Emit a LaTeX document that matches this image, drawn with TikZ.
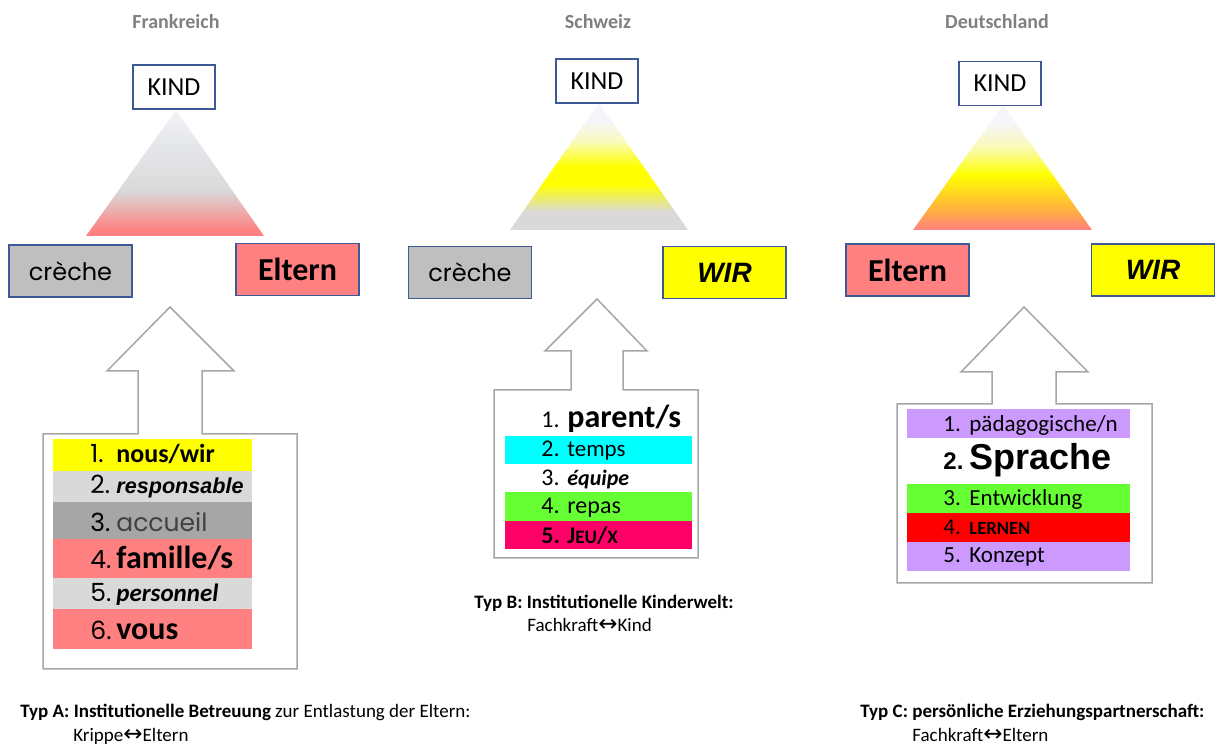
\documentclass[tikz,border=0pt]{standalone}
\usepackage{fontspec}
\setmainfont{Carlito}
\newfontfamily\arialfont{Liberation Sans}
\newfontfamily\thinfont{Poppins}
\newfontfamily\symfont{DejaVu Sans}
\usetikzlibrary{positioning}

\definecolor{boxblue}{RGB}{61,90,150}
\definecolor{titlegray}{RGB}{128,128,128}
\definecolor{arrowgray}{RGB}{166,166,166}
\definecolor{lightred}{RGB}{255,128,128}
\definecolor{creche}{RGB}{191,191,191}
\definecolor{lightgray}{RGB}{217,217,217}
\definecolor{midgray}{RGB}{166,166,166}
\definecolor{hlyellow}{RGB}{255,255,0}
\definecolor{hlcyan}{RGB}{0,255,255}
\definecolor{hlgreen}{RGB}{102,255,51}
\definecolor{hlmagenta}{RGB}{255,0,102}
\definecolor{hlred}{RGB}{255,0,0}
\definecolor{hllilac}{RGB}{204,153,255}
\definecolor{frtop}{RGB}{241,243,248}
\definecolor{frmid}{RGB}{228,229,232}
\definecolor{chpale}{RGB}{250,250,190}
\definecolor{chtop}{RGB}{244,246,251}
\definecolor{deorange}{RGB}{255,176,64}
\definecolor{degold}{RGB}{255,215,32}
\definecolor{depale}{RGB}{250,250,180}

\pgfdeclareverticalshading{frshade}{100bp}{color(0bp)=(lightred); color(27bp)=(lightred);
  color(43bp)=(lightgray); color(59bp)=(frmid); color(75bp)=(frtop); color(100bp)=(frtop)}
\pgfdeclareverticalshading{chshade}{100bp}{color(0bp)=(lightgray); color(32bp)=(lightgray);
  color(43bp)=(hlyellow); color(50bp)=(hlyellow); color(60bp)=(chpale); color(68bp)=(chtop); color(100bp)=(chtop)}
\pgfdeclareverticalshading{deshade}{100bp}{color(0bp)=(lightred); color(25bp)=(lightred);
  color(33bp)=(deorange); color(40bp)=(degold); color(47bp)=(hlyellow); color(58bp)=(depale); color(68bp)=(chtop); color(100bp)=(chtop)}

\tikzset{
  countrytitle/.style={font=\bfseries\fontsize{10}{12}\selectfont, text=titlegray, inner sep=0pt},
  kidbox/.style={draw=boxblue, line width=0.7pt, fill=white, minimum width=41pt, minimum height=22pt,
    inner sep=0pt, font=\fontsize{13}{15}\selectfont},
  partbox/.style={draw=boxblue, line width=0.7pt, minimum width=61.5pt, minimum height=26pt, inner sep=0pt},
  blockarrow/.style={draw=arrowgray, line width=0.75pt, line join=miter},
  itemnum/.style={anchor=base west, inner sep=0pt},
  itemword/.style={anchor=base west, inner sep=0pt},
  caption/.style={anchor=base west, inner sep=0pt, font=\fontsize{9.5}{11}\selectfont},
}
\newcommand{\twoway}{{\symfont\fontsize{11.5}{11}\selectfont ↔}}

\begin{document}
\begin{tikzpicture}[x=0.5pt, y=-0.5pt]
  \useasboundingbox (0,0) rectangle (1215,747);

  % titles
  \node[countrytitle] (fr-title) at (176,22) {Frankreich};
  \node[countrytitle] (ch-title) at (598,22) {Schweiz};
  \node[countrytitle] (de-title) at (997,22) {Deutschland};

  % triangles
  \shade[shading=frshade] (176,110) -- (86,236) -- (264,236) -- cycle;
  \shade[shading=chshade] (599,103) -- (510,230) -- (688,230) -- cycle;
  \shade[shading=deshade] (1003,105) -- (913,230) -- (1092,230) -- cycle;

  % top boxes
  \node[kidbox] (fr-kind) at (174,87) {KIND};
  \node[kidbox] (ch-kind) at (597,81) {KIND};
  \node[kidbox] (de-kind) at (1000,83.5) {KIND};

  % bottom boxes
  \node[partbox, fill=creche, font=\thinfont\fontsize{12}{14}\selectfont] (fr-creche) at (70.5,271) {crèche};
  \node[partbox, fill=lightred, font=\bfseries\fontsize{16}{18}\selectfont] (fr-eltern) at (297.5,269.5) {Eltern};
  \node[partbox, fill=creche, font=\thinfont\fontsize{12}{14}\selectfont] (ch-creche) at (470,272.5) {crèche};
  \node[partbox, fill=hlyellow, font=\arialfont\bfseries\itshape\fontsize{14}{16}\selectfont] (ch-wir) at (724.5,272.5) {WIR};
  \node[partbox, fill=lightred, font=\bfseries\fontsize{16}{18}\selectfont] (de-eltern) at (907.5,270) {Eltern};
  \node[partbox, fill=hlyellow, font=\arialfont\bfseries\itshape\fontsize{14}{16}\selectfont] (de-wir) at (1153,270) {WIR};

  % block arrows with list boxes
  \draw[blockarrow] (43,669) -- (43,434) -- (138,434) -- (138,371) -- (107,371) -- (170,307)
    -- (234,371) -- (202,371) -- (202,434) -- (297,434) -- (297,669) -- cycle;
  \draw[blockarrow] (494,558) -- (494,390) -- (571,390) -- (571,351) -- (545,351) -- (597,299)
    -- (647,351) -- (623,351) -- (623,390) -- (698,390) -- (698,558) -- cycle;
  \draw[blockarrow] (897,583) -- (897,404) -- (992,404) -- (992,372) -- (961,372) -- (1024,307)
    -- (1088,372) -- (1056,372) -- (1056,404) -- (1152,404) -- (1152,583) -- cycle;

  % Frankreich list
  \fill[hlyellow] (53,439) rectangle (252,471);
  \fill[lightgray] (53,471) rectangle (252,502);
  \fill[midgray] (53,502) rectangle (252,539);
  \fill[lightred] (53,539) rectangle (252,578);
  \fill[lightgray] (53,578) rectangle (252,609);
  \fill[lightred] (53,609) rectangle (252,649);
  \foreach \n/\y in {1/463, 2/494, 3/532, 4/569, 5/602, 6/640}
    \node[itemnum, font=\thinfont\fontsize{12.5}{14}\selectfont] (fr-n\n) at (90,\y) {\n.};
  \node[itemword, font=\bfseries\fontsize{13}{15}\selectfont] (fr-w1) at (116,463) {nous/wir};
  \node[itemword, font=\arialfont\bfseries\itshape\fontsize{10.8}{13}\selectfont] (fr-w2) at (116,494) {responsable};
  \node[itemword, font=\thinfont\fontsize{12.5}{14}\selectfont, text=black!75] (fr-w3) at (116,532) {accueil};
  \node[itemword, font=\bfseries\fontsize{16}{18}\selectfont] (fr-w4) at (116,569) {famille/s};
  \node[itemword, font=\bfseries\itshape\fontsize{12.5}{14}\selectfont] (fr-w5) at (116,602) {personnel};
  \node[itemword, font=\bfseries\fontsize{16}{18}\selectfont] (fr-w6) at (116,640) {vous};

  % Schweiz list
  \fill[hlcyan] (505,436) rectangle (692,464);
  \fill[hlgreen] (505,492) rectangle (692,521);
  \fill[hlmagenta] (505,521) rectangle (692,549);
  \foreach \n/\y in {1/428, 2/457, 3/486, 4/514}
    \node[itemnum, font=\fontsize{12}{14}\selectfont] (ch-n\n) at (541,\y) {\n.};
  \node[itemnum, font=\bfseries\fontsize{12}{14}\selectfont] (ch-n5) at (541,544) {5.};
  \node[itemword, font=\bfseries\fontsize{16}{18}\selectfont] (ch-w1) at (567,428) {parent/s};
  \node[itemword, font=\fontsize{11.5}{14}\selectfont] (ch-w2) at (567,457) {temps};
  \node[itemword, font=\bfseries\itshape\fontsize{11}{13}\selectfont] (ch-w3) at (567,486) {équipe};
  \node[itemword, font=\fontsize{12}{14}\selectfont] (ch-w4) at (567,514) {repas};
  \node[itemword, font=\bfseries\fontsize{9.5}{11}\selectfont] (ch-w5) at (567,544)
    {{\fontsize{12}{14}\selectfont J}EU{\fontsize{12}{14}\selectfont /}X};

  % Deutschland list
  \fill[hllilac] (907,409) rectangle (1130,438);
  \fill[hlgreen] (907,484) rectangle (1130,513);
  \fill[hlred] (907,513) rectangle (1130,542);
  \fill[hllilac] (907,542) rectangle (1130,571);
  \foreach \n/\y in {1/432, 3/506, 4/535, 5/563}
    \node[itemnum, font=\fontsize{11.5}{14}\selectfont] (de-n\n) at (943,\y) {\n.};
  \node[itemnum, font=\arialfont\bfseries\fontsize{12}{14}\selectfont] (de-n2) at (943,470) {2.};
  \node[itemword, font=\fontsize{11.5}{14}\selectfont] (de-w1) at (969,432) {pädagogische/n};
  \node[itemword, font=\arialfont\bfseries\fontsize{18}{20}\selectfont] (de-w2) at (969,470) {Sprache};
  \node[itemword, font=\fontsize{11.5}{14}\selectfont] (de-w3) at (969,506) {Entwicklung};
  \node[itemword, font=\bfseries\fontsize{9.3}{11}\selectfont] (de-w4) at (969,535) {LERNEN};
  \node[itemword, font=\fontsize{11.5}{14}\selectfont] (de-w5) at (969,563) {Konzept};

  % captions
  \node[caption] (typ-a) at (20,718) {\textbf{Typ A: Institutionelle Betreuung} zur Entlastung der Eltern:};
  \node[caption] (typ-a2) at (73,741) {Krippe\twoway Eltern};
  \node[caption, font=\bfseries\fontsize{9.5}{11}\selectfont] (typ-b) at (474,609) {Typ B: Institutionelle Kinderwelt:};
  \node[caption] (typ-b2) at (527,632) {Fachkraft\twoway Kind};
  \node[caption, font=\bfseries\fontsize{9.5}{11}\selectfont] (typ-c) at (860,718) {Typ C: persönliche Erziehungspartnerschaft:};
  \node[caption] (typ-c2) at (912,741) {Fachkraft\twoway Eltern};
\end{tikzpicture}
\end{document}
